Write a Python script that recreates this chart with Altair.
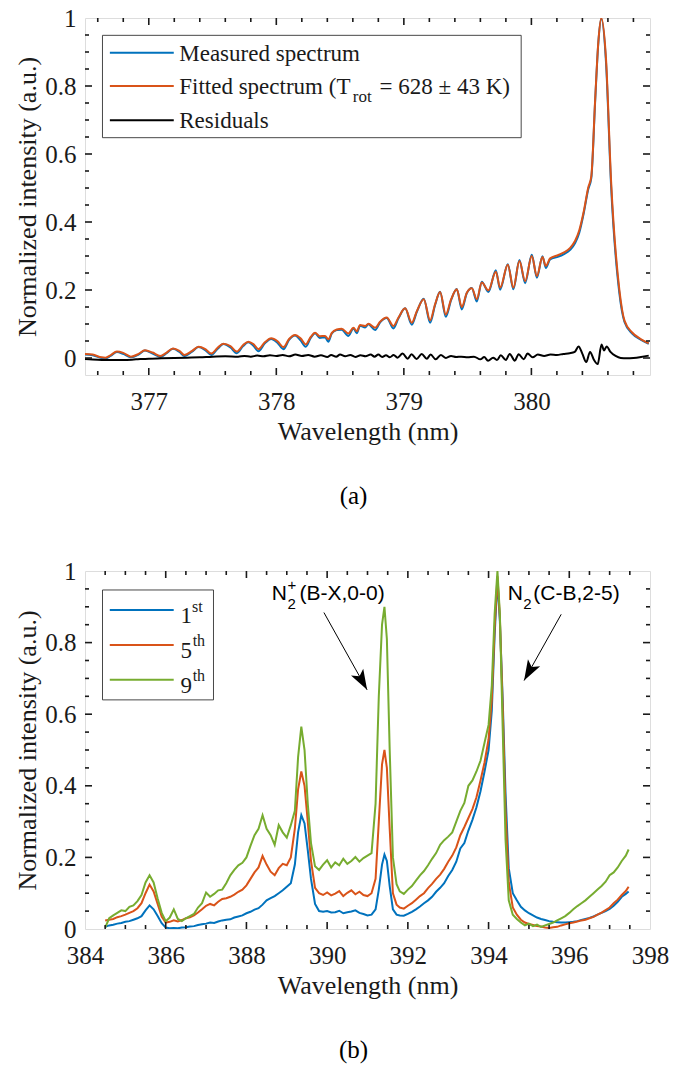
import altair as alt
import pandas as pd

SERIF = "Liberation Serif"
SANS = "Liberation Sans"
INK = "#1a1a1a"
BLUE, ORANGE, GREEN, BLACK = "#0072BD", "#D95319", "#77AC30", "#000000"

# ---------------- panel (a) data ----------------
top_wl = [376.50, 376.56, 376.63, 376.66, 376.70, 376.75, 376.80, 376.86, 376.92, 376.97,
          377.03, 377.09, 377.14, 377.19, 377.24, 377.28, 377.34, 377.39, 377.44, 377.49,
          377.54, 377.585, 377.64, 377.69, 377.74, 377.78, 377.82, 377.86, 377.91, 377.96,
          378.01, 378.056, 378.10, 378.147, 378.19, 378.231, 378.27, 378.304, 378.34, 378.382,
          378.408, 378.435, 378.474, 378.513, 378.565, 378.605, 378.631, 378.657, 378.696, 378.722,
          378.775, 378.814, 378.866, 378.918, 378.958, 379.010, 379.062, 379.102, 379.156, 379.206,
          379.245, 379.284, 379.329, 379.371, 379.415, 379.454, 379.494, 379.533, 379.572, 379.611,
          379.663, 379.721, 379.755, 379.815, 379.859, 379.906, 379.951, 380.003, 380.043, 380.087,
          380.113, 380.147, 380.212, 380.252, 380.304, 380.343, 380.375, 380.41, 380.445, 380.47,
          380.50, 380.525, 380.548, 380.585, 380.625, 380.69, 380.73, 380.79, 380.86, 380.92]
top_fitted = [0.012, 0.010, 0.002, 0.001, 0.008, 0.019, 0.015, 0.004, 0.012, 0.023,
              0.016, 0.006, 0.016, 0.028, 0.021, 0.009, 0.021, 0.033, 0.027, 0.013,
              0.030, 0.042, 0.035, 0.019, 0.038, 0.048, 0.041, 0.026, 0.046, 0.058,
              0.049, 0.032, 0.056, 0.068, 0.058, 0.040, 0.062, 0.074, 0.064, 0.065,
              0.055, 0.074, 0.084, 0.086, 0.072, 0.089, 0.079, 0.097, 0.094, 0.101,
              0.089, 0.107, 0.119, 0.094, 0.119, 0.146, 0.104, 0.138, 0.173, 0.111,
              0.158, 0.194, 0.128, 0.173, 0.202, 0.150, 0.192, 0.205, 0.173, 0.222,
              0.199, 0.254, 0.207, 0.274, 0.207, 0.285, 0.226, 0.300, 0.241, 0.297,
              0.271, 0.293, 0.303, 0.310, 0.324, 0.345, 0.375, 0.430, 0.500, 0.535,
              0.760, 0.930, 1.000, 0.880, 0.520, 0.200, 0.110, 0.075, 0.055, 0.043]
top_measured = [0.010, 0.008, 0.000, -0.001, 0.006, 0.018, 0.012, 0.002, 0.010, 0.022,
                0.013, 0.003, 0.014, 0.027, 0.018, 0.006, 0.019, 0.032, 0.024, 0.009,
                0.027, 0.041, 0.031, 0.014, 0.035, 0.046, 0.036, 0.020, 0.043, 0.056,
                0.044, 0.026, 0.053, 0.066, 0.052, 0.033, 0.059, 0.073, 0.059, 0.061,
                0.048, 0.072, 0.082, 0.083, 0.065, 0.087, 0.073, 0.095, 0.090, 0.099,
                0.082, 0.105, 0.118, 0.087, 0.117, 0.146, 0.098, 0.136, 0.174, 0.104,
                0.156, 0.195, 0.121, 0.171, 0.203, 0.143, 0.191, 0.206, 0.166, 0.224,
                0.194, 0.258, 0.201, 0.276, 0.202, 0.288, 0.220, 0.304, 0.236, 0.299,
                0.265, 0.290, 0.298, 0.305, 0.318, 0.338, 0.368, 0.425, 0.495, 0.530,
                0.755, 0.928, 0.998, 0.870, 0.505, 0.190, 0.106, 0.072, 0.053, 0.042]
res_wl = [376.50, 376.60, 376.70, 376.80, 376.90, 377.00, 377.10, 377.20, 377.30, 377.40,
          377.50, 377.60, 377.70, 377.75, 377.80, 377.85, 377.90, 377.95, 378.00, 378.05,
          378.10, 378.15, 378.20, 378.25, 378.30, 378.35, 378.40, 378.43, 378.47, 378.50,
          378.54, 378.58, 378.62, 378.66, 378.70, 378.74, 378.77, 378.80, 378.83, 378.86,
          378.89, 378.92, 378.95, 378.99, 379.03, 379.06, 379.10, 379.14, 379.18, 379.21,
          379.25, 379.29, 379.33, 379.37, 379.41, 379.45, 379.50, 379.55, 379.60, 379.63,
          379.66, 379.70, 379.73, 379.76, 379.80, 379.83, 379.87, 379.90, 379.94, 379.97,
          380.01, 380.05, 380.10, 380.15, 380.20, 380.25, 380.30, 380.34, 380.37, 380.40,
          380.43, 380.46, 380.49, 380.52, 380.55, 380.57, 380.59, 380.62, 380.66, 380.70,
          380.75, 380.80, 380.86, 380.92]
res_val = [-0.003, -0.005, -0.006, -0.006, -0.004, -0.002, -0.001, 0.000, 0.001, 0.002,
           0.004, 0.005, 0.004, 0.006, 0.004, 0.007, 0.005, 0.008, 0.006, 0.009,
           0.005, 0.010, 0.006, 0.009, 0.004, 0.008, 0.003, 0.009, 0.004, 0.010,
           0.005, 0.009, 0.003, 0.008, 0.005, 0.010, 0.004, 0.010, 0.003, 0.008,
           0.002, 0.009, 0.001, 0.013, -0.002, 0.011, -0.003, 0.012, -0.002, 0.010,
           -0.004, 0.009, 0.000, 0.006, 0.003, 0.004, 0.002, 0.004, -0.004, 0.003,
           -0.008, 0.001, -0.006, 0.008, -0.006, 0.012, -0.008, 0.011, -0.004, 0.013,
           0.002, 0.010, 0.006, 0.010, 0.009, 0.012, 0.014, 0.018, 0.034, 0.012,
           -0.012, 0.018, -0.005, -0.018, 0.040, 0.022, 0.034, 0.018, 0.006, 0.000,
           -0.001, 0.000, 0.003, 0.007]

a_x_major = [377, 378, 379, 380]
a_x_minor = [376.6, 376.8, 377.2, 377.4, 377.6, 377.8, 378.2, 378.4, 378.6, 378.8,
             379.2, 379.4, 379.6, 379.8, 380.2, 380.4, 380.6, 380.8]
a_y_major = [0, 0.2, 0.4, 0.6, 0.8]
a_y_minor = [0.05, 0.1, 0.15, 0.25, 0.3, 0.35, 0.45, 0.5, 0.55, 0.65, 0.7, 0.75, 0.85, 0.9, 0.95]
a_y_labels = [0, 0.2, 0.4, 0.6, 0.8, 1.0]

a_leg_box = {"x1": [376.637], "x2": [379.92], "y1": [0.949], "y2": [0.648]}
a_leg_line_x = [376.695, 377.196]
a_leg_line_y = [0.898, 0.800, 0.699]
a_leg_colors = [BLUE, ORANGE, BLACK]
a_leg_text = ["Measured spectrum", "Fitted spectrum (T", "rot", "= 628 ± 43 K)", "Residuals"]
a_leg_text_x = [377.239, 377.239, 378.600, 378.810, 377.239]
a_leg_text_y = [0.895, 0.797, 0.768, 0.797, 0.696]
a_leg_text_fs = [23, 23, 17, 23, 23]

# ---------------- panel (b) data ----------------
bot_wl = [384.5, 384.6, 384.7, 384.8, 384.9, 385.0, 385.1, 385.2, 385.3, 385.4,
          385.5, 385.6, 385.7, 385.8, 385.9, 386.0, 386.1, 386.2, 386.3, 386.4,
          386.5, 386.6, 386.7, 386.8, 386.9, 387.0, 387.1, 387.2, 387.3, 387.4,
          387.5, 387.6, 387.7, 387.8, 387.9, 388.0, 388.1, 388.2, 388.3, 388.4,
          388.5, 388.6, 388.7, 388.8, 388.9, 389.0, 389.1,
          389.2, 389.28, 389.36, 389.44, 389.52, 389.6, 389.7, 389.8,
          389.9, 390.0, 390.1, 390.2, 390.3, 390.4, 390.5, 390.6, 390.7, 390.8, 390.9, 391.0, 391.1,
          391.2, 391.28, 391.36, 391.42, 391.48, 391.55, 391.63, 391.72, 391.8, 391.9,
          392.0, 392.1, 392.2, 392.3, 392.4, 392.5, 392.6, 392.7, 392.8, 392.9,
          393.0, 393.1, 393.2, 393.3, 393.4, 393.5, 393.6, 393.7, 393.8, 393.9,
          394.0, 394.08, 394.15, 394.22, 394.28, 394.35, 394.42, 394.5, 394.6, 394.7, 394.8, 394.9,
          395.0, 395.1, 395.2, 395.3, 395.4, 395.5, 395.6, 395.7, 395.8, 395.9,
          396.0, 396.1, 396.2, 396.3, 396.4, 396.5, 396.6, 396.7, 396.8, 396.9,
          397.0, 397.1, 397.2, 397.3, 397.4, 397.47]
bot_1st = [0.006, 0.010, 0.012, 0.015, 0.017, 0.020, 0.022, 0.026, 0.030, 0.036,
           0.052, 0.066, 0.055, 0.036, 0.016, 0.004, 0.002, 0.003, 0.002, 0.004,
           0.005, 0.007, 0.008, 0.011, 0.013, 0.015, 0.018, 0.017, 0.021, 0.024,
           0.026, 0.027, 0.032, 0.035, 0.038, 0.044, 0.048, 0.054, 0.058, 0.068,
           0.080, 0.086, 0.092, 0.100, 0.108, 0.118, 0.128,
           0.180, 0.270, 0.318, 0.295, 0.220, 0.140, 0.070, 0.050,
           0.048, 0.050, 0.046, 0.047, 0.051, 0.044, 0.047, 0.049, 0.052, 0.045, 0.042, 0.038, 0.040,
           0.055, 0.110, 0.180, 0.208, 0.190, 0.120, 0.055, 0.040, 0.038, 0.037,
           0.042, 0.048, 0.055, 0.063, 0.072, 0.080, 0.090, 0.104, 0.115, 0.128,
           0.148, 0.165, 0.188, 0.225, 0.240, 0.275, 0.305, 0.340, 0.385, 0.440,
           0.500, 0.610, 0.820, 0.975, 0.860, 0.640, 0.380, 0.170, 0.100, 0.080, 0.062, 0.052,
           0.044, 0.038, 0.032, 0.028, 0.025, 0.022, 0.020, 0.019, 0.018, 0.018,
           0.019, 0.020, 0.022, 0.025, 0.028, 0.031, 0.035, 0.040, 0.045, 0.050,
           0.056, 0.065, 0.076, 0.090, 0.098, 0.105]
bot_5th = [0.024, 0.026, 0.028, 0.033, 0.036, 0.040, 0.045, 0.050, 0.058, 0.072,
           0.100, 0.124, 0.105, 0.070, 0.035, 0.018, 0.020, 0.024, 0.021, 0.025,
           0.030, 0.033, 0.038, 0.046, 0.055, 0.065, 0.070, 0.066, 0.076, 0.084,
           0.086, 0.090, 0.096, 0.104, 0.110, 0.122, 0.140, 0.158, 0.172, 0.204,
           0.180, 0.160, 0.150, 0.170, 0.182, 0.178, 0.200,
           0.280, 0.390, 0.440, 0.400, 0.300, 0.190, 0.115, 0.100,
           0.095, 0.102, 0.094, 0.099, 0.106, 0.092, 0.101, 0.108, 0.097, 0.104, 0.095, 0.092, 0.100,
           0.140, 0.300, 0.460, 0.500, 0.450, 0.280, 0.100, 0.068, 0.060, 0.057,
           0.065, 0.072, 0.082, 0.092, 0.100, 0.114, 0.126, 0.140, 0.152, 0.168,
           0.188, 0.205, 0.228, 0.262, 0.285, 0.310, 0.335, 0.368, 0.415, 0.465,
           0.530, 0.640, 0.840, 0.985, 0.870, 0.620, 0.330, 0.130, 0.060, 0.040, 0.026, 0.018,
           0.014, 0.011, 0.008, 0.007, 0.004, 0.003, 0.005, 0.006, 0.010, 0.013,
           0.016, 0.018, 0.021, 0.024, 0.026, 0.030, 0.034, 0.040, 0.046, 0.053,
           0.060, 0.072, 0.082, 0.095, 0.106, 0.118]
bot_9th = [0.004, 0.030, 0.038, 0.045, 0.052, 0.050, 0.062, 0.066, 0.078, 0.095,
           0.130, 0.150, 0.130, 0.085, 0.045, 0.022, 0.032, 0.055, 0.028, 0.022,
           0.030, 0.036, 0.042, 0.060, 0.072, 0.102, 0.090, 0.098, 0.108, 0.110,
           0.128, 0.150, 0.165, 0.178, 0.185, 0.200, 0.232, 0.262, 0.280, 0.318,
           0.280, 0.262, 0.235, 0.290, 0.270, 0.255, 0.290,
           0.330, 0.480, 0.565, 0.500, 0.350, 0.240, 0.175, 0.165,
           0.180, 0.192, 0.172, 0.186, 0.178, 0.196, 0.182, 0.190, 0.201, 0.188, 0.198, 0.205, 0.212,
           0.350, 0.650, 0.850, 0.900, 0.810, 0.500, 0.200, 0.125, 0.105, 0.098,
           0.110, 0.120, 0.135, 0.150, 0.162, 0.178, 0.196, 0.212, 0.235, 0.248,
           0.258, 0.270, 0.300, 0.330, 0.352, 0.400, 0.415, 0.440, 0.470, 0.520,
           0.570, 0.680, 0.880, 1.000, 0.880, 0.560, 0.250, 0.080, 0.040, 0.028, 0.018, 0.010,
           0.015, 0.008, 0.012, 0.006, 0.010, 0.014, 0.018, 0.024, 0.030, 0.036,
           0.045, 0.055, 0.064, 0.072, 0.080, 0.090, 0.100, 0.110, 0.120, 0.132,
           0.150, 0.158, 0.172, 0.190, 0.205, 0.222]

b_x_major = [386, 388, 390, 392, 394, 396]
b_x_minor = [384.5, 385, 385.5, 386.5, 387, 387.5, 388.5, 389, 389.5, 390.5, 391, 391.5,
             392.5, 393, 393.5, 394.5, 395, 395.5, 396.5, 397, 397.5]
b_x_labels = [384, 386, 388, 390, 392, 394, 396, 398]
b_y_major = [0.2, 0.4, 0.6, 0.8]
b_y_minor = [0.05, 0.1, 0.15, 0.25, 0.3, 0.35, 0.45, 0.5, 0.55, 0.65, 0.7, 0.75, 0.85, 0.9, 0.95]
b_y_labels = [0, 0.2, 0.4, 0.6, 0.8, 1.0]

b_leg_box = {"x1": [384.434], "x2": [387.184], "y1": [0.947], "y2": [0.640]}
b_leg_line_x = [384.614, 386.198]
b_leg_line_y = [0.891, 0.793, 0.696]
b_leg_colors = [BLUE, ORANGE, GREEN]
b_leg_main = ["1", "5", "9"]
b_leg_main_y = [0.874, 0.777, 0.679]
b_leg_main_x = 386.369
b_leg_sup = ["st", "th", "th"]
b_leg_sup_y = [0.900, 0.804, 0.706]
b_leg_sup_x = [386.649, 386.668, 386.668]

ann_text = ["N", "2", "+", "(B-X,0-0)", "N", "2", "(C-B,2-5)"]
ann_x = [388.629, 389.020, 389.020, 389.316, 394.473, 394.860, 395.108]
ann_y = [0.936, 0.908, 0.960, 0.936, 0.936, 0.908, 0.936]
ann_fs = [21, 15, 15, 21, 21, 15, 21]

arrow_x0 = [389.92, 395.80]
arrow_y0 = [0.884, 0.879]
arrow_x1 = [390.99, 394.88]
arrow_y1 = [0.668, 0.694]
arrow_angle = [150.7, 209.3]

ARROW_HEAD = "M0,0 L0.55,1.6 L0,1.22 L-0.55,1.6 Z"
MAJOR_LEN, MINOR_LEN = 7, 4


def label_axis(values, pad):
    return alt.Axis(values=values, ticks=False, tickSize=0, domain=False, grid=False,
                    format="~g", labelFont=SERIF, labelFontSize=25, labelColor=INK,
                    labelPadding=pad, labelOverlap=False, labelFlush=False, labelBound=False,
                    titleFont=SERIF, titleFontSize=26, titleFontWeight="normal", titleColor=INK)


def tick_layers(xs, ys, xd, yd, w, h, x_major, x_minor, y_major, y_minor):
    # inward ticks on all four sides; tick length converted from pixels to data units
    ux = (xd[1] - xd[0]) / w
    uy = (yd[1] - yd[0]) / h
    rows = []
    for vals, ln in ((x_major, MAJOR_LEN), (x_minor, MINOR_LEN)):
        for v in vals:
            rows.append({"x": v, "x2": v, "y": yd[0], "y2": yd[0] + ln * uy})
            rows.append({"x": v, "x2": v, "y": yd[1], "y2": yd[1] - ln * uy})
    for vals, ln in ((y_major, MAJOR_LEN), (y_minor, MINOR_LEN)):
        for v in vals:
            rows.append({"x": xd[0], "x2": xd[0] + ln * ux, "y": v, "y2": v})
            rows.append({"x": xd[1], "x2": xd[1] - ln * ux, "y": v, "y2": v})
    return alt.Chart(pd.DataFrame(rows)).mark_rule(color=INK, strokeWidth=1.6).encode(
        x=alt.X("x:Q", scale=xs, axis=None), x2="x2:Q",
        y=alt.Y("y:Q", scale=ys, axis=None), y2="y2:Q")


def panel(xd, yd, w, h, ticks, labels, series, interp, extra_layers, caption):
    xs = alt.Scale(domain=xd, nice=False, zero=False)
    ys = alt.Scale(domain=yd, nice=False, zero=False)
    layers = []
    for i, (df, color) in enumerate(series):
        base = alt.Chart(df).mark_line(color=color, strokeWidth=2, clip=True, interpolate=interp)
        if i == 0:
            enc = dict(
                x=alt.X("wl:Q", scale=xs, title="Wavelength (nm)", axis=label_axis(labels[0], 14)),
                y=alt.Y("v:Q", scale=ys, title="Normalized intensity (a.u.)",
                        axis=label_axis(labels[1], 9)),
            )
        else:
            enc = dict(x=alt.X("wl:Q", scale=xs, axis=None), y=alt.Y("v:Q", scale=ys, axis=None))
        layers.append(base.encode(**enc))
    for lyr in extra_layers:
        layers.append(lyr(xs, ys))
    layers.append(tick_layers(xs, ys, xd, yd, w, h, *ticks))
    return alt.layer(*layers).resolve_axis(x="independent", y="independent").properties(
        width=w, height=h, title=alt.TitleParams(caption, orient="bottom", offset=40,
                                                 font=SERIF, fontSize=25, fontWeight="normal",
                                                 color=BLACK, dx=-14))


def legend_box(box):
    def f(xs, ys):
        return alt.Chart(pd.DataFrame(box)).mark_rect(fill="white", stroke="#333333", strokeWidth=0.9).encode(
            x=alt.X("x1:Q", scale=xs, axis=None), x2="x2:Q",
            y=alt.Y("y1:Q", scale=ys, axis=None), y2="y2:Q")
    return f


def legend_lines(lx, ly, colors):
    df = pd.DataFrame({"x1": [lx[0]] * len(ly), "x2": [lx[1]] * len(ly), "y": ly, "c": colors})
    def f(xs, ys):
        return alt.Chart(df).mark_rule(strokeWidth=2).encode(
            x=alt.X("x1:Q", scale=xs, axis=None), x2="x2:Q",
            y=alt.Y("y:Q", scale=ys, axis=None), color=alt.Color("c:N", scale=None, legend=None))
    return f


def texts(tx, ty, tt, fs, font, color=INK):
    df = pd.DataFrame({"x": tx, "y": ty, "t": tt, "fs": fs})
    def f(xs, ys):
        return alt.Chart(df).mark_text(align="left", baseline="middle", font=font, color=color).encode(
            x=alt.X("x:Q", scale=xs, axis=None), y=alt.Y("y:Q", scale=ys, axis=None),
            text="t:N", size=alt.Size("fs:Q", scale=None, legend=None))
    return f


def arrows():
    df = pd.DataFrame({"x0": arrow_x0, "y0": arrow_y0, "x1": arrow_x1, "y1": arrow_y1, "a": arrow_angle})
    def f(xs, ys):
        shaft = alt.Chart(df).mark_rule(color=BLACK, strokeWidth=1).encode(
            x=alt.X("x0:Q", scale=xs, axis=None), y=alt.Y("y0:Q", scale=ys, axis=None),
            x2="x1:Q", y2="y1:Q")
        head = alt.Chart(df).mark_point(shape=ARROW_HEAD, filled=True, color=BLACK, opacity=1,
                                        size=650).encode(
            x=alt.X("x1:Q", scale=xs, axis=None), y=alt.Y("y1:Q", scale=ys, axis=None),
            angle=alt.Angle("a:Q", scale=None))
        return alt.layer(shaft, head)
    return f


a_series = [
    (pd.DataFrame({"wl": top_wl, "v": top_measured}), BLUE),
    (pd.DataFrame({"wl": top_wl, "v": top_fitted}), ORANGE),
    (pd.DataFrame({"wl": res_wl, "v": res_val}), BLACK),
]
top = panel([376.5, 380.93], [-0.05, 1.0], 565, 357,
            (a_x_major, a_x_minor, a_y_major, a_y_minor), (a_x_major, a_y_labels),
            a_series, "monotone",
            [legend_box(a_leg_box), legend_lines(a_leg_line_x, a_leg_line_y, a_leg_colors),
             texts(a_leg_text_x, a_leg_text_y, a_leg_text, a_leg_text_fs, SERIF)],
            "(a)")

b_series = [
    (pd.DataFrame({"wl": bot_wl, "v": bot_1st}), BLUE),
    (pd.DataFrame({"wl": bot_wl, "v": bot_5th}), ORANGE),
    (pd.DataFrame({"wl": bot_wl, "v": bot_9th}), GREEN),
]
bottom = panel([384, 398], [0, 1.0], 565, 358,
               (b_x_major, b_x_minor, b_y_major, b_y_minor), (b_x_labels, b_y_labels),
               b_series, "linear",
               [legend_box(b_leg_box), legend_lines(b_leg_line_x, b_leg_line_y, b_leg_colors),
                texts([b_leg_main_x] * 3, b_leg_main_y, b_leg_main, [23, 23, 23], SERIF),
                texts(b_leg_sup_x, b_leg_sup_y, b_leg_sup, [16, 16, 16], SERIF),
                texts(ann_x, ann_y, ann_text, ann_fs, SANS, BLACK),
                arrows()],
               "(b)")

chart = alt.vconcat(top, bottom, spacing=48).properties(
    padding={"left": 14, "top": 5, "right": 0, "bottom": 0}
).configure_view(stroke=INK, strokeWidth=1.5).configure(background="white")

chart.save("out.html", embed_options={"renderer": "svg", "actions": False})
